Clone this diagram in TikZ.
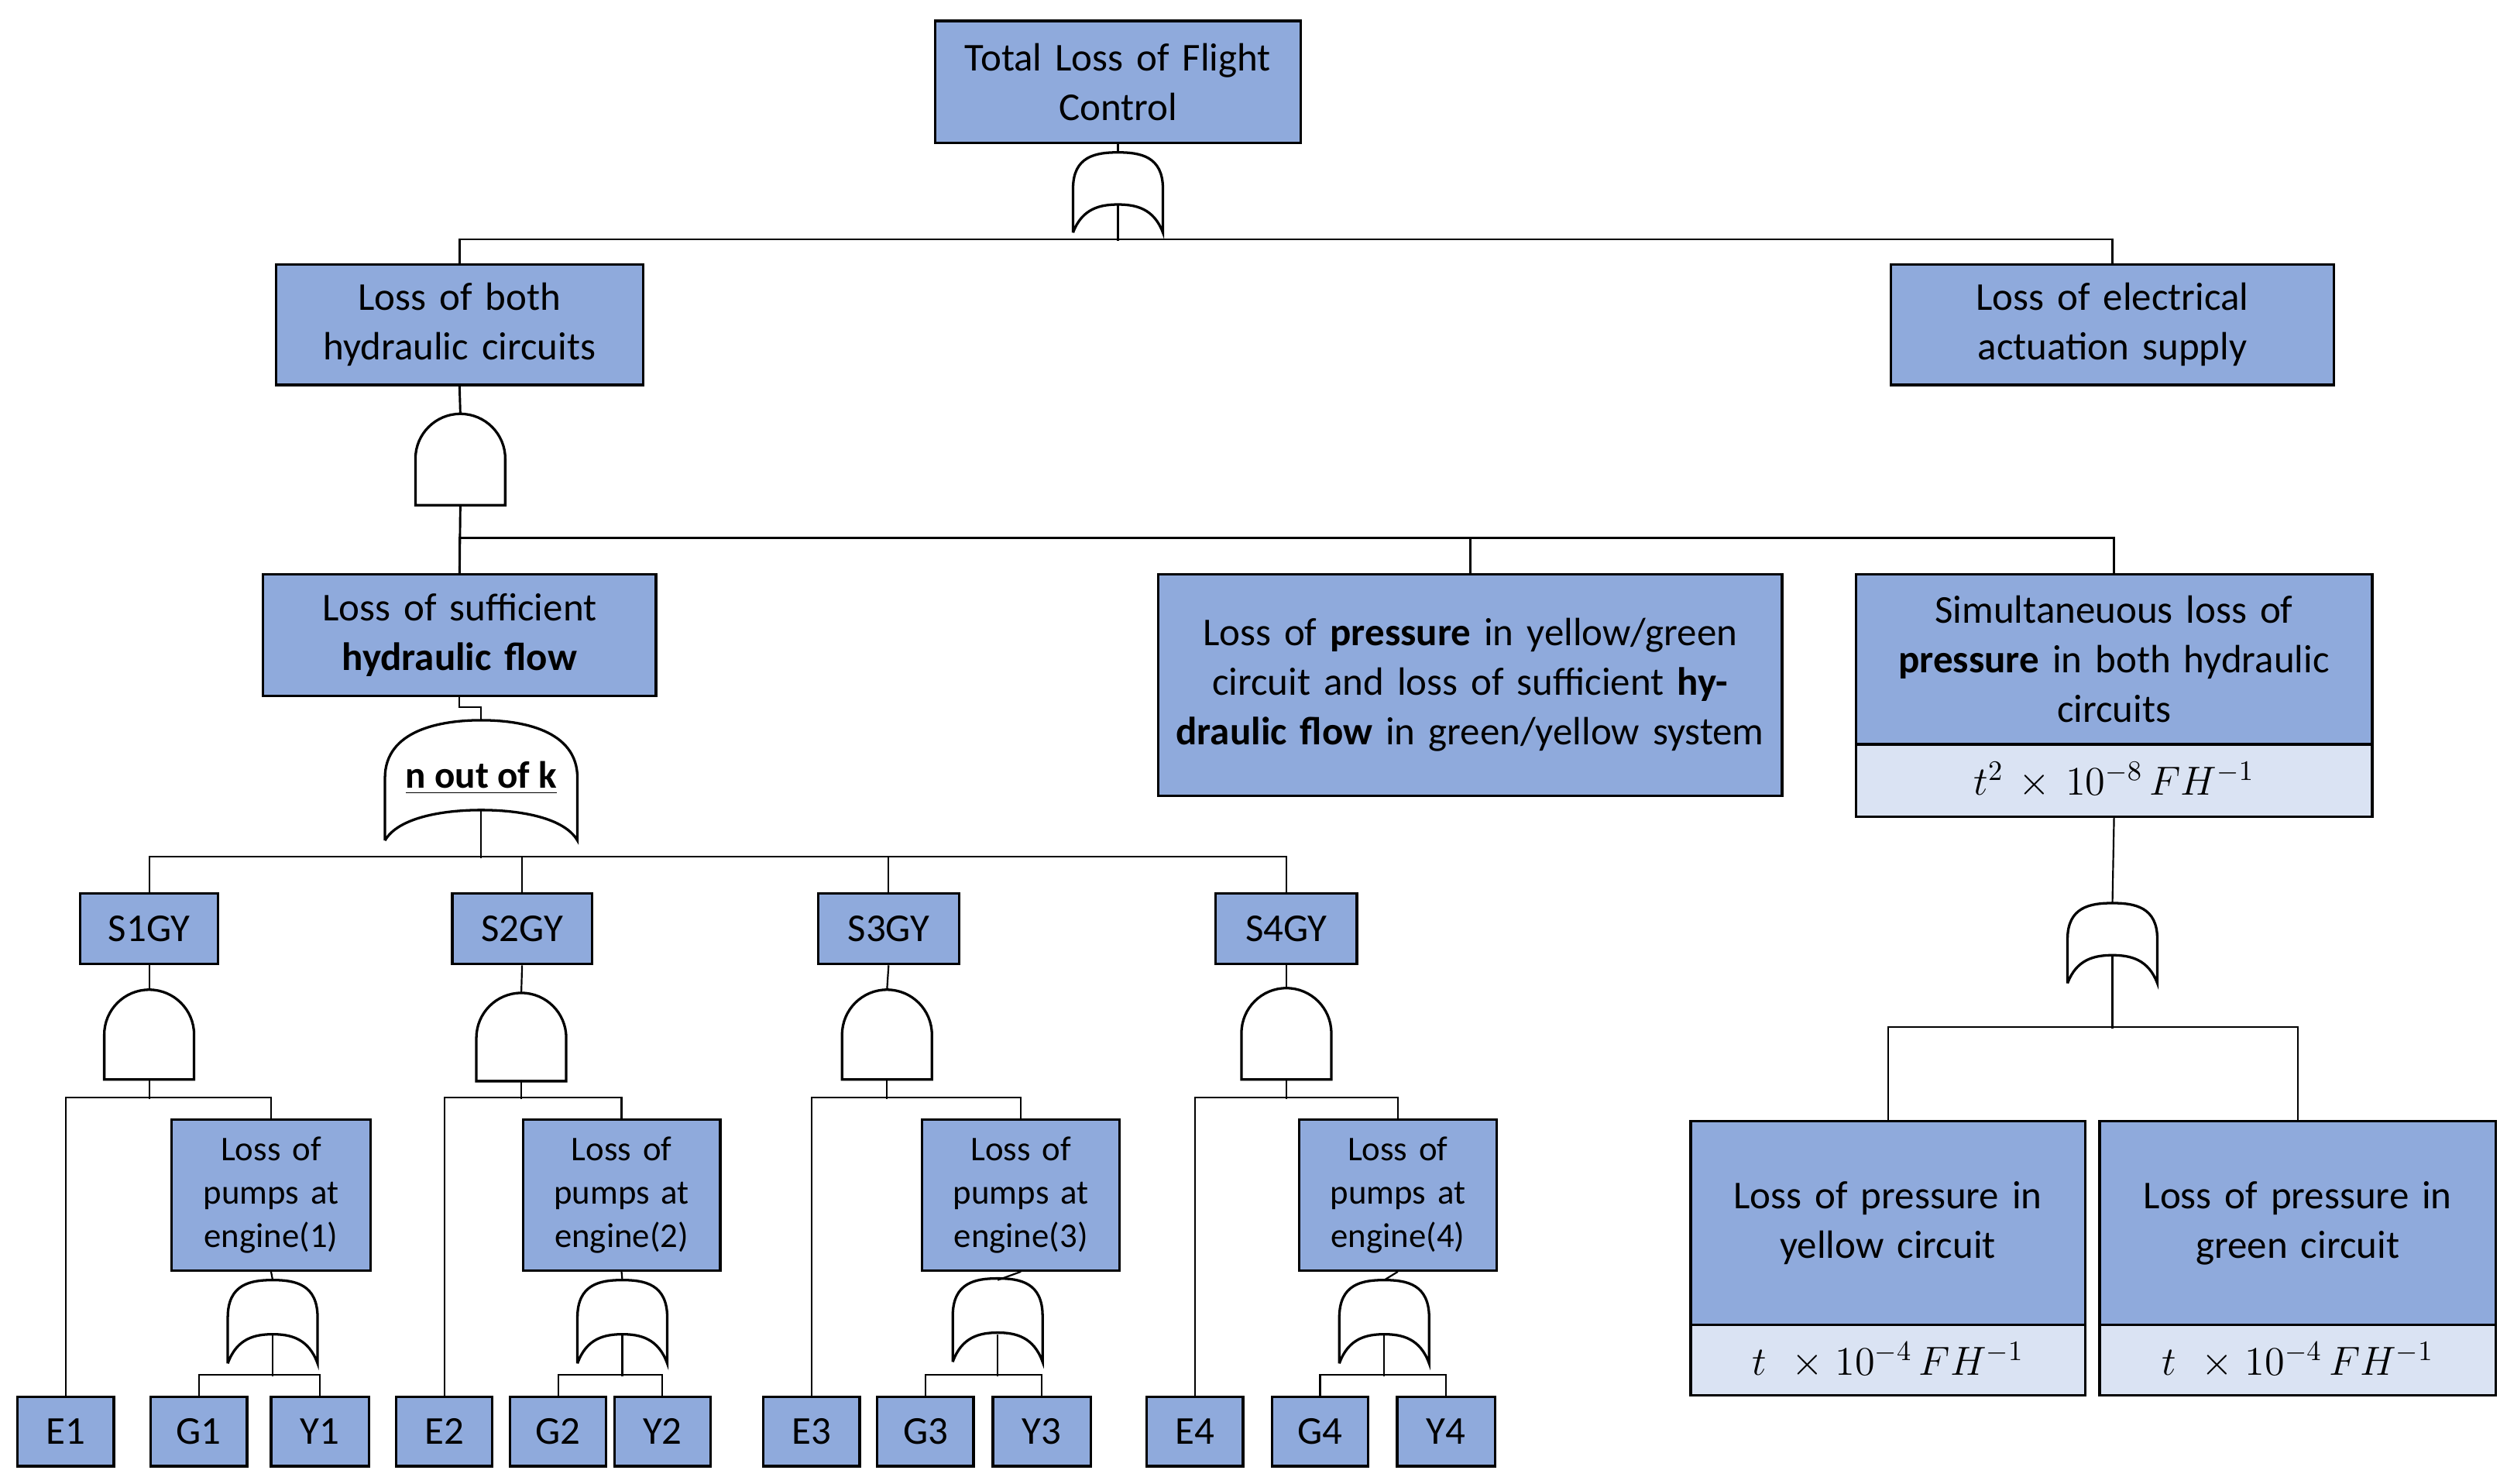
\documentclass[tikz,border=0pt]{standalone}
\usepackage{fontspec}
\setmainfont{Carlito}
\definecolor{bfill}{HTML}{8FAADC}
\definecolor{sfill}{HTML}{DAE3F3}
\newcommand\bxx[7]{\node[box,fill=#7,minimum width={(#4-#2)*0.02cm},minimum height={(#5-#3)*0.02cm},text width={(#4-#2)*0.02cm-6pt}] (#1) at ({(#2+#4)/2},{(#3+#5)/2}) {#6};}
\newcommand\andg[4]{\draw[gate] ({#1-#3/2},{#2+#4}) -- ({#1-#3/2},{#2+#3/2}) arc[start angle=180,end angle=0,x radius={#3/2*0.02cm},y radius={#3/2*0.02cm}] -- ({#1+#3/2},{#2+#4}) -- cycle;}
\newcommand\org[4]{\draw[gate] ({#1-#3/2},{#2+#4}) -- ({#1-#3/2},{#2+0.45*#4}) .. controls ({#1-#3/2},{#2+0.05*#4}) and ({#1-0.25*#3},{#2}) .. ({#1},{#2}) .. controls ({#1+0.25*#3},{#2}) and ({#1+#3/2},{#2+0.05*#4}) .. ({#1+#3/2},{#2+0.45*#4}) -- ({#1+#3/2},{#2+#4}) .. controls ({#1+0.4*#3},{#2+0.7*#4}) and ({#1+0.2*#3},{#2+0.65*#4}) .. ({#1},{#2+0.65*#4}) .. controls ({#1-0.2*#3},{#2+0.65*#4}) and ({#1-0.4*#3},{#2+0.7*#4}) .. ({#1-#3/2},{#2+#4});}
\begin{document}
\begin{tikzpicture}[x=0.02cm,y=-0.02cm,
  box/.style={draw,line width=0.9pt,inner sep=0pt,align=center,font=\fontsize{14}{17.6}\selectfont},
  sm/.style={font=\fontsize{12.3}{15.3}\selectfont},
  gate/.style={line width=0.9pt},
  ln/.style={line width=0.6pt},
  mln/.style={line width=0.8pt}]
\useasboundingbox (0,0) rectangle (1563,925);
% boxes
\bxx{top}{583}{13}{811}{89}{Total Loss of Flight\\Control}{bfill}
\bxx{hyd}{172}{165}{401}{240}{Loss of both\\hydraulic circuits}{bfill}
\bxx{elec}{1179}{165}{1455}{240}{Loss of electrical\\actuation supply}{bfill}
\bxx{suff}{164}{358}{409}{434}{Loss of sufficient\\\textbf{hydraulic flow}}{bfill}
\bxx{press}{722}{358}{1111}{496}{Loss of \textbf{pressure} in yellow/green circuit and loss of sufficient \textbf{hydraulic flow} in green/yellow system}{bfill}
\bxx{simul}{1157}{358}{1479}{464}{Simultaneuous loss of\\\textbf{pressure} in both hydraulic\\circuits}{bfill}
\bxx{simulr}{1157}{464}{1479}{509}{$t^2\times10^{-8}\,FH^{-1}$}{sfill}
\bxx{yel}{1054}{699}{1300}{826}{Loss of pressure in\\yellow circuit}{bfill}
\bxx{yelr}{1054}{826}{1300}{870}{$t\ \times10^{-4}\,FH^{-1}$}{sfill}
\bxx{grn}{1309}{699}{1556}{826}{Loss of pressure in\\green circuit}{bfill}
\bxx{grnr}{1309}{826}{1556}{870}{$t\ \times10^{-4}\,FH^{-1}$}{sfill}
\bxx{s1}{50}{557}{136}{601}{S1GY}{bfill}
\bxx{s2}{282}{557}{369}{601}{S2GY}{bfill}
\bxx{s3}{510}{557}{598}{601}{S3GY}{bfill}
\bxx{s4}{758}{557}{846}{601}{S4GY}{bfill}
\tikzset{box/.append style={sm}}
\bxx{p1}{107}{698}{231}{792}{Loss of\\pumps at\\engine(1)}{bfill}
\bxx{p2}{326}{698}{449}{792}{Loss of\\pumps at\\engine(2)}{bfill}
\bxx{p3}{575}{698}{698}{792}{Loss of\\pumps at\\engine(3)}{bfill}
\bxx{p4}{810}{698}{933}{792}{Loss of\\pumps at\\engine(4)}{bfill}
\tikzset{box/.append style={font=\fontsize{14}{17}\selectfont}}
\bxx{e1}{11}{871}{71}{914}{E1}{bfill}
\bxx{g1}{94}{871}{154}{914}{G1}{bfill}
\bxx{y1}{169}{871}{230}{914}{Y1}{bfill}
\bxx{e2}{247}{871}{307}{914}{E2}{bfill}
\bxx{g2}{318}{871}{378}{914}{G2}{bfill}
\bxx{y2}{383}{871}{443}{914}{Y2}{bfill}
\bxx{e3}{476}{871}{536}{914}{E3}{bfill}
\bxx{g3}{547}{871}{607}{914}{G3}{bfill}
\bxx{y3}{619}{871}{680}{914}{Y3}{bfill}
\bxx{e4}{715}{871}{775}{914}{E4}{bfill}
\bxx{g4}{793}{871}{853}{914}{G4}{bfill}
\bxx{y4}{871}{871}{932}{914}{Y4}{bfill}
% gates
\org{697}{95}{56}{50}
\andg{287}{258}{56}{57}
\org{1317}{563}{56}{50}
\andg{93}{617}{56}{56}
\andg{325}{619}{56}{55}
\andg{553}{617}{56}{56}
\andg{802}{616}{56}{57}
\org{170}{798}{56}{52}
\org{388}{798}{56}{52}
\org{622}{797}{56}{52}
\org{863}{798}{56}{52}
% n out of k
\draw[gate] (240,524) -- (240,485) .. controls (240,455) and (275,449) .. (300,449) .. controls (325,449) and (360,455) .. (360,485) -- (360,524) .. controls (352,510) and (325,505) .. (300,505) .. controls (275,505) and (248,510) .. (240,524);
\node[font=\bfseries\fontsize{13.5}{16}\selectfont,inner sep=0pt] (nk) at (300,485) {\underline{n out of k}};
% coordinates
\coordinate (gt1) at (697,95); \coordinate (gb1) at (697,128);
\coordinate (gt2) at (287,258); \coordinate (gb2) at (287,315);
\coordinate (gtk) at (300,449); \coordinate (gbk) at (300,505);
\coordinate (gtr) at (1317,563); \coordinate (gbr) at (1317,596);
% connectors
\draw[mln] (top.south) -- (gt1);
\draw[ln] (gb1) -- (697,150);
\draw[mln] (hyd.north) -- ++(0,-15) -| (elec.north);
\draw[mln] (hyd.south) -- (gt2);
\draw[mln] (gb2) -- (suff.north);
\draw[mln] (suff.north) -- ++(0,-22) -| (simul.north);
\draw[mln] (press.north) -- ++(0,-22);
\draw[ln] (suff.south) -- ++(0,6) -| (gtk);
\draw[ln] (gbk) -- (300,535);
\draw[ln] (s1.north) -- ++(0,-22) -| (s4.north);
\draw[ln] (s2.north) -- ++(0,-22);
\draw[ln] (s3.north) -- ++(0,-22);
\draw[ln] (simulr.south) -- (gtr);
\draw[ln] (gbr) -- (1317,641);
\draw[ln] (yel.north) -- ++(0,-58) -| (grn.north);
% S subtrees
\foreach \s/\e/\p/\g/\y/\sx/\px/\gt in {s1/e1/p1/g1/y1/93/170/617, s2/e2/p2/g2/y2/325/388/619, s3/e3/p3/g3/y3/553/622/617, s4/e4/p4/g4/y4/802/863/616}{
  \draw[ln] (\s.south) -- (\sx,\gt);
  \draw[ln] (\sx,673) -- (\sx,685);
  \draw[ln] (\e.north) -- ++(0,-186) -| (\p.north);
  \draw[ln] (\p.south) -- (\px,798);
  \draw[ln] (\px,832) -- (\px,858);
  \draw[ln] (\g.north) -- ++(0,-13) -| (\y.north);
}
\end{tikzpicture}
\end{document}
